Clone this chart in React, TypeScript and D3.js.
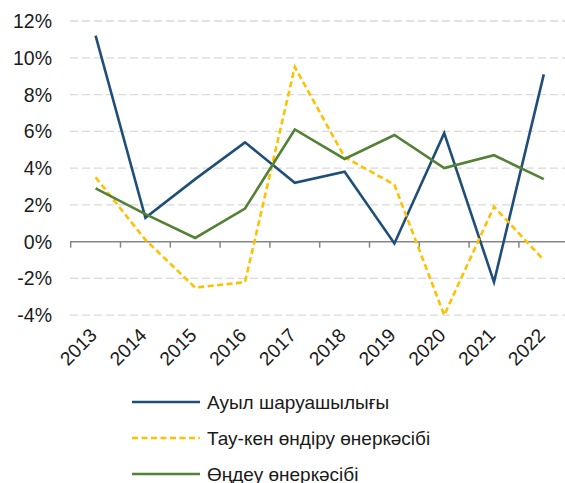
import React from 'react';
import * as d3 from 'd3';

const years = ['2013', '2014', '2015', '2016', '2017', '2018', '2019', '2020', '2021', '2022'];
const agriculture = [11.2, 1.3, 3.4, 5.4, 3.2, 3.8, -0.1, 5.9, -2.2, 9.1];
const mining = [3.5, 0.1, -2.5, -2.2, 9.5, 4.6, 3.1, -4.0, 1.9, -1.0];
const manufacturing = [2.9, 1.5, 0.2, 1.8, 6.1, 4.5, 5.8, 4.0, 4.7, 3.4];
const yTicks = [-4, -2, 0, 2, 4, 6, 8, 10, 12];

const seriesNames = ['Ауыл шаруашылығы', 'Тау-кен өндіру өнеркәсібі', 'Өңдеу өнеркәсібі'];
const seriesColors = ['#1f4e79', '#ffc000', '#548235'];
const seriesDash = [null, '6,3.5', null];

const width = 565;
const height = 483;
const font = '"Liberation Sans", Arial, sans-serif';

const App: React.FC = () => {
    const x = d3.scaleBand<string>()
        .domain(years)
        .range([70.7, 568.7]);

    const y = d3.scaleLinear()
        .domain([-4, 12])
        .range([315.2, 21]);

    const line = d3.line<number>()
        .x((_, i) => x(years[i])! + x.bandwidth() / 2)
        .y(d => y(d));

    const allSeries = [agriculture, mining, manufacturing];

    return (
        <svg width={width} height={height} style={{ position: 'absolute', left: 0, top: 0 }}
            fontFamily={font}>
            {yTicks.filter(t => t !== 0).map(t => (
                <line key={t} x1={70} x2={width} y1={y(t)} y2={y(t)}
                    stroke="#d9d9d9" strokeWidth={1.3} strokeDasharray="8,4" />
            ))}
            {yTicks.map(t => (
                <text key={t} x={52} y={y(t)} dy="0.36em" textAnchor="end"
                    fontSize={19.5} fill="#1a1a1a">{t}%</text>
            ))}

            <line x1={70} x2={width} y1={y(0)} y2={y(0)} stroke="#868686" strokeWidth={1.5} />
            {years.map(yr => (
                <line key={yr} x1={x(yr)!} x2={x(yr)!} y1={y(0)} y2={y(0) + 6}
                    stroke="#868686" strokeWidth={1.5} />
            ))}

            {years.map(yr => {
                const cx = x(yr)! + x.bandwidth() / 2 + 2.5;
                const cy = 336.5;
                return (
                    <text key={yr} x={cx} y={cy} textAnchor="end" fontSize={19.2}
                        fill="#1a1a1a" transform={`rotate(-45, ${cx}, ${cy})`}>{yr}</text>
                );
            })}

            {allSeries.map((s, i) => (
                <path key={i} d={line(s)!} fill="none" stroke={seriesColors[i]}
                    strokeWidth={2.6} strokeDasharray={seriesDash[i] ?? undefined}
                    strokeLinejoin="miter" />
            ))}

            {seriesNames.map((name, i) => {
                const ly = 402 + i * 36;
                return (
                    <g key={name}>
                        <line x1={132} x2={200} y1={ly} y2={ly} stroke={seriesColors[i]}
                            strokeWidth={2.6} strokeDasharray={seriesDash[i] ?? undefined} />
                        <text x={207} y={ly} dy="0.36em" fontSize={19} fill="#1a1a1a">{name}</text>
                    </g>
                );
            })}
        </svg>
    );
};

export default App;
